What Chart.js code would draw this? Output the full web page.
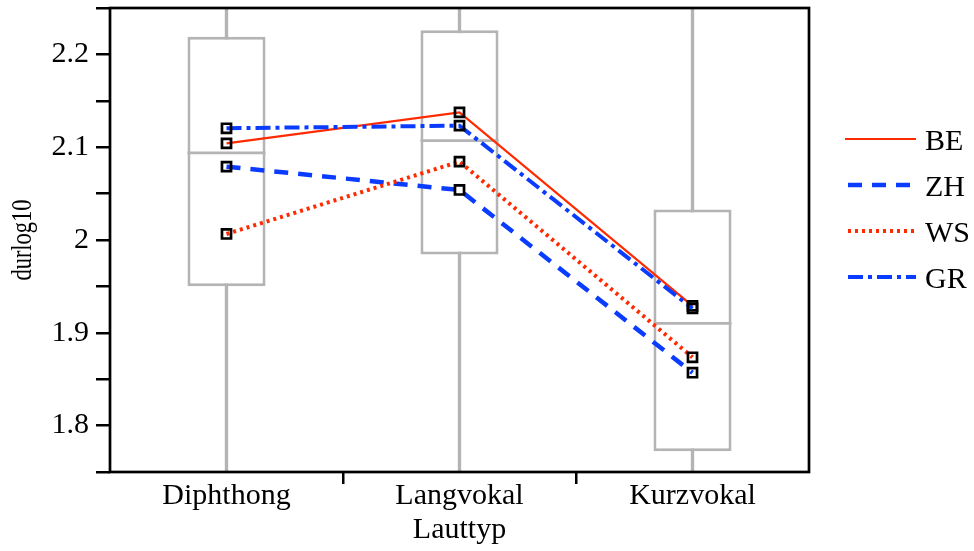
<!DOCTYPE html>
<html>
<head>
<meta charset="utf-8">
<title>durlog10 nach Lauttyp</title>
<script src="https://cdn.jsdelivr.net/npm/chart.js@4/dist/chart.umd.min.js"></script>
<style>
  html, body { margin: 0; padding: 0; background: #ffffff; }
  #wrap { width: 974px; height: 551px; }
</style>
</head>
<body>
<div id="wrap"><canvas id="chart" width="974" height="551"></canvas></div>
<script>
// Categories on the x axis
const categories = ['Diphthong', 'Langvokal', 'Kurzvokal'];

// Mean durlog10 per dialect group
const seriesNames = ['BE', 'ZH', 'WS', 'GR'];
const valuesBE = [2.1042, 2.1376, 1.9290];
const valuesZH = [2.0790, 2.0539, 1.8570];
const valuesWS = [2.0065, 2.0844, 1.8736];
const valuesGR = [2.1204, 2.1232, 1.9262];

// Box plot summary per category (all groups pooled)
const boxQ1     = [1.9501, 1.9843, 1.7723];
const boxMedian = [2.0938, 2.1070, 1.9102];
const boxQ3     = [2.2191, 2.2259, 2.0330];
// Whiskers reach past the visible axis range
const whiskerLow  = [1.70, 1.70, 1.70];
const whiskerHigh = [2.30, 2.30, 2.30];

// Labelled y ticks (minor ticks every 0.05 stay unlabelled)
const yTickLabels = ['1.8', '1.9', '2', '2.1', '2.2'];

const xTitle = 'Lauttyp';
const yTitle = 'durlog10';

const RED = '#ff2a00';
const BLUE = '#0a3cff';
const GRAY = '#b4b4b4';
const FONT = "'Liberation Serif', 'Times New Roman', serif";
const FONT_SIZE = 30;

const seriesStyles = {
  BE: { color: RED,  width: 2.2, dash: [] },
  ZH: { color: BLUE, width: 4.5, dash: [14, 10] },
  WS: { color: RED,  width: 4,   dash: [3, 4] },
  GR: { color: BLUE, width: 4,   dash: [15, 5, 4, 5] }
};
const seriesValues = { BE: valuesBE, ZH: valuesZH, WS: valuesWS, GR: valuesGR };

const lineDatasets = seriesNames.map((name, i) => ({
  type: 'line',
  label: name,
  data: seriesValues[name],
  borderColor: seriesStyles[name].color,
  borderWidth: seriesStyles[name].width,
  borderDash: seriesStyles[name].dash,
  fill: false,
  tension: 0,
  pointStyle: 'rect',
  pointRadius: 6.4,
  pointHoverRadius: 6.4,
  pointBorderColor: '#000000',
  pointBackgroundColor: 'rgba(0,0,0,0)',
  pointBorderWidth: 2.7,
  order: 4 - i,
  isSeries: true
}));

// Legend drawn at the right of the plot, one sample line per series
const sideLegend = {
  id: 'sideLegend',
  afterDraw(chart) {
    const ctx = chart.ctx;
    const x0 = 845, x1 = 916, tx = 925, top = 139, step = 46;
    chart.data.datasets.filter(d => d.isSeries).forEach((ds, i) => {
      const y = top + i * step;
      ctx.save();
      ctx.strokeStyle = ds.borderColor;
      ctx.lineWidth = ds.borderWidth;
      ctx.setLineDash(ds.borderDash || []);
      ctx.lineDashOffset = -3;
      ctx.beginPath();
      ctx.moveTo(x0, y);
      ctx.lineTo(x1, y);
      ctx.stroke();
      ctx.setLineDash([]);
      ctx.fillStyle = '#000000';
      ctx.font = FONT_SIZE + 'px ' + FONT;
      ctx.textAlign = 'left';
      ctx.textBaseline = 'middle';
      ctx.fillText(ds.label, tx, y + 3);
      ctx.restore();
    });
  }
};

// Narrow rotated title for the value axis
const valueAxisTitle = {
  id: 'valueAxisTitle',
  afterDraw(chart) {
    const { top, bottom } = chart.chartArea;
    const ctx = chart.ctx;
    ctx.save();
    ctx.translate(23, (top + bottom) / 2);
    ctx.rotate(-Math.PI / 2);
    ctx.scale(0.75, 1);
    ctx.fillStyle = '#000000';
    ctx.font = '30px ' + FONT;
    ctx.textAlign = 'center';
    ctx.textBaseline = 'middle';
    ctx.fillText(yTitle, 0, 0);
    ctx.restore();
  }
};

// Black frame around the plot area
const plotFrame = {
  id: 'plotFrame',
  afterDatasetsDraw(chart) {
    const { left, top, right, bottom } = chart.chartArea;
    const ctx = chart.ctx;
    ctx.save();
    ctx.strokeStyle = '#000000';
    ctx.lineWidth = 2.7;
    ctx.strokeRect(left, top, right - left, bottom - top);
    ctx.restore();
  }
};

new Chart(document.getElementById('chart'), {
  type: 'bar',
  data: {
    labels: categories,
    datasets: [
      ...lineDatasets,
      {
        type: 'line',
        label: 'Median',
        data: boxMedian,
        showLine: false,
        pointStyle: 'line',
        pointRadius: 39,
        pointHoverRadius: 39,
        borderColor: GRAY,
        pointBorderColor: GRAY,
        pointBorderWidth: 2.8,
        borderWidth: 2.8,
        order: 15
      },
      {
        type: 'bar',
        label: 'Box',
        data: categories.map((c, i) => [boxQ1[i], boxQ3[i]]),
        backgroundColor: '#ffffff',
        borderColor: GRAY,
        borderWidth: 3,
        borderSkipped: false,
        barPercentage: 0.335,
        categoryPercentage: 1,
        grouped: false,
        order: 20
      },
      {
        type: 'bar',
        label: 'Whisker',
        data: categories.map((c, i) => [whiskerLow[i], whiskerHigh[i]]),
        backgroundColor: GRAY,
        borderWidth: 0,
        barThickness: 2.7,
        grouped: false,
        clip: 0,
        order: 30
      }
    ]
  },
  options: {
    responsive: false,
    devicePixelRatio: 1,
    animation: false,
    events: [],
    layout: { autoPadding: false, padding: { top: 8, right: 165, left: 0, bottom: 0 } },
    plugins: {
      legend: { display: false },
      tooltip: { enabled: false },
      title: { display: false }
    },
    scales: {
      x: {
        type: 'category',
        offset: true,
        grid: {
          offset: true,
          drawOnChartArea: false,
          drawTicks: true,
          tickLength: 12,
          lineWidth: 2.5,
          color: ctx => (ctx.type === 'tick' && ctx.index > 0) ? '#000000' : 'rgba(0,0,0,0)'
        },
        border: { display: false },
        ticks: {
          color: '#000000',
          font: { family: FONT, size: FONT_SIZE, lineHeight: 1 },
          padding: -3,
          maxRotation: 0,
          autoSkip: false
        },
        title: {
          display: true,
          text: xTitle,
          color: '#000000',
          font: { family: FONT, size: FONT_SIZE, lineHeight: 1.2 },
          padding: { top: 0, bottom: 3 }
        },
        afterFit(scale) {
          scale.height = 79;
          scale.paddingLeft = 0;
          scale.paddingRight = 0;
        }
      },
      y: {
        type: 'linear',
        min: 1.75,
        max: 2.25,
        grid: {
          drawOnChartArea: false,
          drawTicks: true,
          tickLength: 14,
          lineWidth: 2.5,
          color: '#000000'
        },
        border: { display: false },
        ticks: {
          stepSize: 0.05,
          color: '#000000',
          font: { family: FONT, size: FONT_SIZE, lineHeight: 1 },
          padding: 7,
          callback: v => {
            const hit = yTickLabels.find(l => Math.abs(parseFloat(l) - v) < 1e-6);
            return hit === undefined ? '' : hit;
          }
        },
        title: { display: false },
        afterFit(scale) {
          scale.width = 110;
          scale.paddingTop = 0;
          scale.paddingBottom = 0;
        }
      }
    }
  },
  plugins: [plotFrame, sideLegend, valueAxisTitle]
});
</script>
</body>
</html>
